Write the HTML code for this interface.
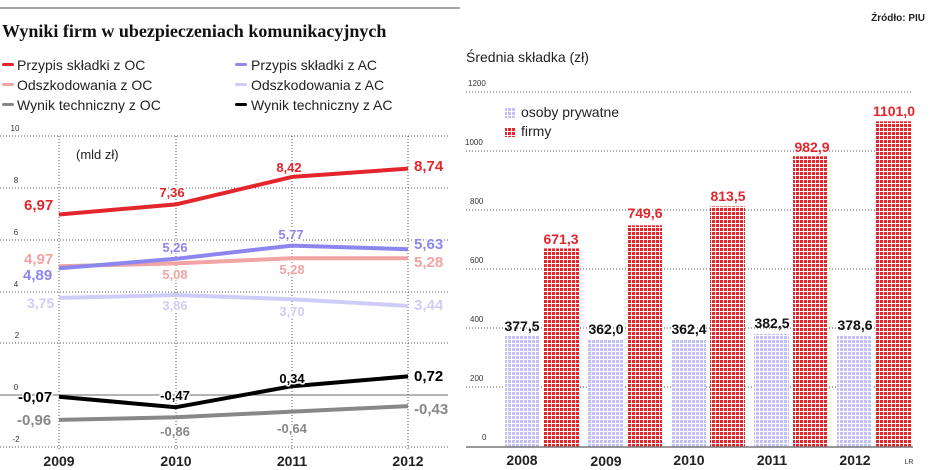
<!DOCTYPE html>
<html><head><meta charset="utf-8"><style>
body{margin:0;background:#fff;width:930px;height:470px;overflow:hidden}
svg{display:block;font-family:"Liberation Sans",sans-serif}
.h{paint-order:stroke;stroke:#fff;stroke-width:3px;stroke-linejoin:round}
</style></head><body>
<svg width="930" height="470" viewBox="0 0 930 470">
<defs>
<pattern id="pb" width="4" height="4" patternUnits="userSpaceOnUse"><rect width="4" height="4" fill="#fff"/><rect width="3" height="3" fill="#c3c1f3"/></pattern>
<pattern id="pr" width="4" height="4" patternUnits="userSpaceOnUse"><rect width="4" height="4" fill="#fff"/><rect width="3" height="3" fill="#e3262b"/></pattern>
</defs>
<line x1="0" y1="8" x2="460" y2="8" stroke="#888" stroke-width="1.5"/>
<text x="925" y="21" font-size="10" font-weight="bold" text-anchor="end" fill="#222">Źródło: PIU</text>
<text x="2" y="37" font-family="Liberation Serif,serif" font-size="18" font-weight="bold" fill="#111">Wyniki firm w ubezpieczeniach komunikacyjnych</text>
<g font-size="14" fill="#222">
<rect x="2" y="63" width="12" height="3" rx="1.5" fill="#e3262b"/><text x="17" y="70">Przypis składki z OC</text>
<rect x="2" y="83" width="12" height="3" rx="1.5" fill="#f2a3a3"/><text x="17" y="90">Odszkodowania z OC</text>
<rect x="2" y="103" width="12" height="3" rx="1.5" fill="#888"/><text x="17" y="110">Wynik techniczny z OC</text>
<rect x="235" y="63" width="12" height="3" rx="1.5" fill="#8c86ee"/><text x="251" y="70">Przypis składki z AC</text>
<rect x="235" y="83" width="12" height="3" rx="1.5" fill="#cfcdf7"/><text x="251" y="90">Odszkodowania z AC</text>
<rect x="235" y="103" width="12" height="3" rx="1.5" fill="#000"/><text x="251" y="110">Wynik techniczny z AC</text>
</g>
<g stroke="#555" stroke-width="1" stroke-dasharray="1,2">
<line x1="0" y1="136" x2="448" y2="136"/><line x1="0" y1="188" x2="448" y2="188"/><line x1="0" y1="240" x2="448" y2="240"/><line x1="0" y1="292" x2="448" y2="292"/><line x1="0" y1="343" x2="448" y2="343"/><line x1="0" y1="447" x2="448" y2="447"/>
<line x1="59" y1="136" x2="59" y2="450"/><line x1="176" y1="136" x2="176" y2="450"/><line x1="292" y1="136" x2="292" y2="450"/><line x1="408" y1="136" x2="408" y2="450"/>
</g>
<line x1="0" y1="395" x2="448" y2="395" stroke="#888" stroke-width="1.2"/>
<g font-size="8" fill="#333" text-anchor="middle">
<text x="15" y="131">10</text><text x="16" y="183">8</text><text x="16" y="235">6</text><text x="16" y="287">4</text><text x="17" y="338">2</text><text x="16" y="390">0</text><text x="16" y="442">-2</text>
</g>
<text x="76" y="159" font-size="13" fill="#222">(mld zł)</text>
<g fill="none" stroke-width="4" stroke-linejoin="round">
<polyline points="59,214.5 176,204.4 292,176.9 408,168.6" stroke="#e3262b"/>
<polyline points="59,266.3 176,263.4 292,258.2 408,258.2" stroke="#f2a3a3"/>
<polyline points="59,268.3 176,258.8 292,245.6 408,249.2" stroke="#8c86ee"/>
<polyline points="59,297.9 176,295 292,299.2 408,305.9" stroke="#cfcdf7"/>
<polyline points="59,419.9 176,417.3 292,411.6 408,406.1" stroke="#888"/>
<polyline points="59,396.8 176,407.2 292,386.2 408,376.4" stroke="#000"/>
</g>
<g font-size="13" font-weight="bold" class="h">
<g fill="#e3262b"><text x="24" y="210" font-size="15">6,97</text><text x="172" y="197" text-anchor="middle">7,36</text><text x="289" y="172" text-anchor="middle">8,42</text><text x="414" y="171" font-size="15">8,74</text></g>
<g fill="#8c86ee"><text x="175" y="252" text-anchor="middle">5,26</text><text x="291" y="239" text-anchor="middle">5,77</text><text x="414" y="249" font-size="15">5,63</text><text x="23" y="280" font-size="15">4,89</text></g>
<g fill="#f2a3a3"><text x="24" y="264" font-size="15">4,97</text><text x="175" y="279" text-anchor="middle">5,08</text><text x="292" y="274" text-anchor="middle">5,28</text><text x="414" y="267" font-size="15">5,28</text></g>
<g fill="#cfcdf7"><text x="27" y="308" font-size="14">3,75</text><text x="175" y="310" text-anchor="middle">3,86</text><text x="292" y="316" text-anchor="middle">3,70</text><text x="414" y="310" font-size="15">3,44</text></g>
<g fill="#000"><text x="18" y="402" font-size="15">-0,07</text><text x="175" y="400" text-anchor="middle">-0,47</text><text x="292" y="383" text-anchor="middle">0,34</text><text x="414" y="381" font-size="15">0,72</text></g>
<g fill="#888"><text x="17" y="425" font-size="15">-0,96</text><text x="175" y="436" text-anchor="middle">-0,86</text><text x="292" y="433" text-anchor="middle">-0,64</text><text x="414" y="414" font-size="15">-0,43</text></g>
</g>
<g font-size="14" font-weight="bold" fill="#222" text-anchor="middle">
<text x="59" y="466">2009</text><text x="176" y="466">2010</text><text x="292" y="466">2011</text><text x="408" y="466">2012</text>
</g>
<text x="466" y="62" font-size="14" fill="#222">Średnia składka (zł)</text>
<g stroke="#555" stroke-width="1" stroke-dasharray="1,2">
<line x1="466" y1="92" x2="913" y2="92"/><line x1="466" y1="151" x2="913" y2="151"/><line x1="466" y1="210" x2="913" y2="210"/><line x1="466" y1="269" x2="913" y2="269"/><line x1="466" y1="328" x2="913" y2="328"/><line x1="466" y1="387" x2="913" y2="387"/>
</g>
<g font-size="8" fill="#333">
<text x="468" y="86">1200</text><text x="465" y="145">1000</text><text x="470" y="204">800</text><text x="470" y="263">600</text><text x="470" y="322">400</text><text x="470" y="381">200</text><text x="482" y="440">0</text>
</g>
<rect x="505" y="108" width="10" height="10" fill="url(#pb)"/><text x="521" y="117" font-size="14" fill="#222">osoby prywatne</text>
<rect x="505" y="127" width="10" height="10" fill="url(#pr)"/><text x="521" y="136" font-size="14" fill="#222">firmy</text>
<g fill="url(#pb)">
<rect x="505" y="335.3" width="35" height="111.7"/><rect x="588" y="339.9" width="35" height="107.1"/><rect x="671" y="339.8" width="35" height="107.2"/><rect x="754" y="333.9" width="35" height="113.1"/><rect x="837" y="335" width="35" height="112"/>
</g>
<g fill="url(#pr)">
<rect x="544" y="248.4" width="35" height="198.6"/><rect x="627" y="225.3" width="35" height="221.7"/><rect x="710" y="206.4" width="35" height="240.6"/><rect x="793" y="156.3" width="35" height="290.7"/><rect x="876" y="121.3" width="35" height="325.7"/>
</g>
<line x1="466" y1="447" x2="913" y2="447" stroke="#777" stroke-width="1.5"/>
<g font-size="14" font-weight="bold" text-anchor="middle">
<g fill="#111"><text x="522" y="331">377,5</text><text x="606" y="334">362,0</text><text x="689" y="334">362,4</text><text x="772" y="328">382,5</text><text x="855" y="330">378,6</text></g>
<g fill="#e3262b"><text x="561" y="244">671,3</text><text x="645" y="218">749,6</text><text x="728" y="201">813,5</text><text x="812" y="152">982,9</text><text x="894" y="116">1101,0</text></g>
</g>
<g font-size="14" font-weight="bold" fill="#222" text-anchor="middle">
<text x="522" y="465">2008</text><text x="606" y="466">2009</text><text x="689" y="465">2010</text><text x="772" y="465">2011</text><text x="855" y="465">2012</text>
</g>
<text x="909" y="464" font-size="7" fill="#333" text-anchor="middle">LR</text>
</svg>
</body></html>
